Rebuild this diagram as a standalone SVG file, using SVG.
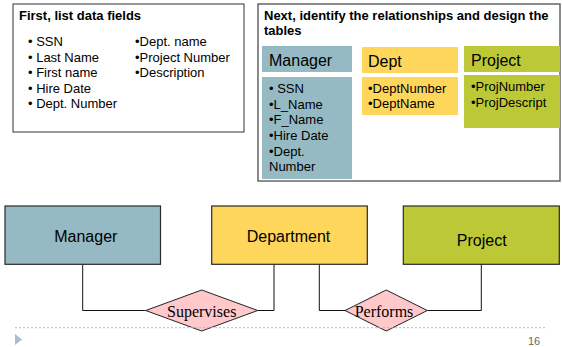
<svg xmlns="http://www.w3.org/2000/svg" width="562" height="347" viewBox="0 0 562 347">
<style>
.t{font-family:"Liberation Sans",Arial,sans-serif;fill:#000}
.b{font-weight:bold;font-size:13px}
.l{font-size:13px}
.h{font-size:16px}
.s{font-family:"Liberation Serif","Times New Roman",serif;font-size:16px;fill:#000}
.ent{stroke:#2a2a2a;stroke-width:1.2}
.rel{fill:#FFC9CB;stroke:#222;stroke-width:1}
.con{fill:none;stroke:#111;stroke-width:1}
</style>
<rect width="562" height="347" fill="#fff"/>
<g id="fields-box">
<rect x="13" y="4" width="231" height="128" fill="#fff" stroke="#333" stroke-width="1"/>
<text class="t b" x="19" y="20">First, list data fields</text>
<text class="t l" x="28" y="46">• SSN</text>
<text class="t l" x="28" y="61.5">• Last Name</text>
<text class="t l" x="28" y="77">• First name</text>
<text class="t l" x="28" y="92.5">• Hire Date</text>
<text class="t l" x="28" y="108">• Dept. Number</text>
<text class="t l" x="135" y="46">•Dept. name</text>
<text class="t l" x="135" y="61.5">•Project Number</text>
<text class="t l" x="135" y="77">•Description</text>
</g>
<g id="tables-box">
<rect x="258" y="4" width="302" height="177" fill="#fff" stroke="#666" stroke-width="1.5"/>
<text class="t b" x="264" y="19.5">Next, identify the relationships and design the</text>
<text class="t b" x="264" y="35">tables</text>
</g>
<g id="table-manager">
<rect x="262" y="46" width="90" height="26" fill="#95BAC4"/>
<text class="t h" x="269" y="66">Manager</text>
<rect x="262" y="77" width="90" height="102" fill="#95BAC4"/>
<text class="t l" x="269" y="92.5">• SSN</text>
<text class="t l" x="269" y="108.5">•L_Name</text>
<text class="t l" x="269" y="124">•F_Name</text>
<text class="t l" x="269" y="139.5">•Hire Date</text>
<text class="t l" x="269" y="155.5">•Dept.</text>
<text class="t l" x="269" y="171">Number</text>
</g>
<g id="table-dept">
<rect x="362" y="47" width="96" height="26" fill="#FED65B"/>
<text class="t h" x="368" y="67">Dept</text>
<rect x="362" y="77" width="96" height="38" fill="#FED65B"/>
<text class="t l" x="368" y="92.5">•DeptNumber</text>
<text class="t l" x="368" y="107.5">•DeptName</text>
</g>
<g id="table-project">
<rect x="464" y="46" width="96" height="26" fill="#BDC836"/>
<text class="t h" x="471" y="66">Project</text>
<rect x="464" y="75" width="96" height="53" fill="#BDC836"/>
<text class="t l" x="471" y="91">•ProjNumber</text>
<text class="t l" x="471" y="106.5">•ProjDescript</text>
</g>
<g id="connectors">
<polyline class="con" points="82.7,264.3 82.7,310.5 145.7,310.5"/>
<polyline class="con" points="257.7,310.5 274,310.5 274,264.3"/>
<polyline class="con" points="319.3,264.3 319.3,310.5 345,310.5"/>
<polyline class="con" points="427.3,310.5 481.3,310.5 481.3,264.3"/>
</g>
<g id="entity-manager">
<rect class="ent" x="5" y="206" width="155.5" height="58.3" fill="#95BAC4"/>
<text class="t h" x="85.8" y="241.7" text-anchor="middle">Manager</text>
</g>
<g id="entity-department">
<rect class="ent" x="211.7" y="206" width="155.6" height="58.3" fill="#FED65B"/>
<text class="t h" x="288.5" y="241.7" text-anchor="middle">Department</text>
</g>
<g id="entity-project">
<rect class="ent" x="403.3" y="206" width="156" height="58.3" fill="#BDC836"/>
<text class="t h" x="481.7" y="246" text-anchor="middle">Project</text>
</g>
<g id="rel-supervises">
<polygon class="rel" points="145.7,310.5 201.7,290 257.7,310.5 201.7,331"/>
<text class="s" x="201.7" y="317" text-anchor="middle">Supervises</text>
</g>
<g id="rel-performs">
<polygon class="rel" points="345,310.5 386.2,290 427.3,310.5 386.2,331"/>
<text class="s" x="384" y="317" text-anchor="middle">Performs</text>
</g>
<g id="footer">
<line x1="15" y1="327.7" x2="546" y2="327.7" stroke="#A9BCD2" stroke-width="1" stroke-dasharray="2,2"/>
<polygon points="15,334 22,339.5 15,345" fill="#A9BCD2"/>
<text class="t" x="528" y="345" font-size="11" style="fill:#666">16</text>
</g>
</svg>
